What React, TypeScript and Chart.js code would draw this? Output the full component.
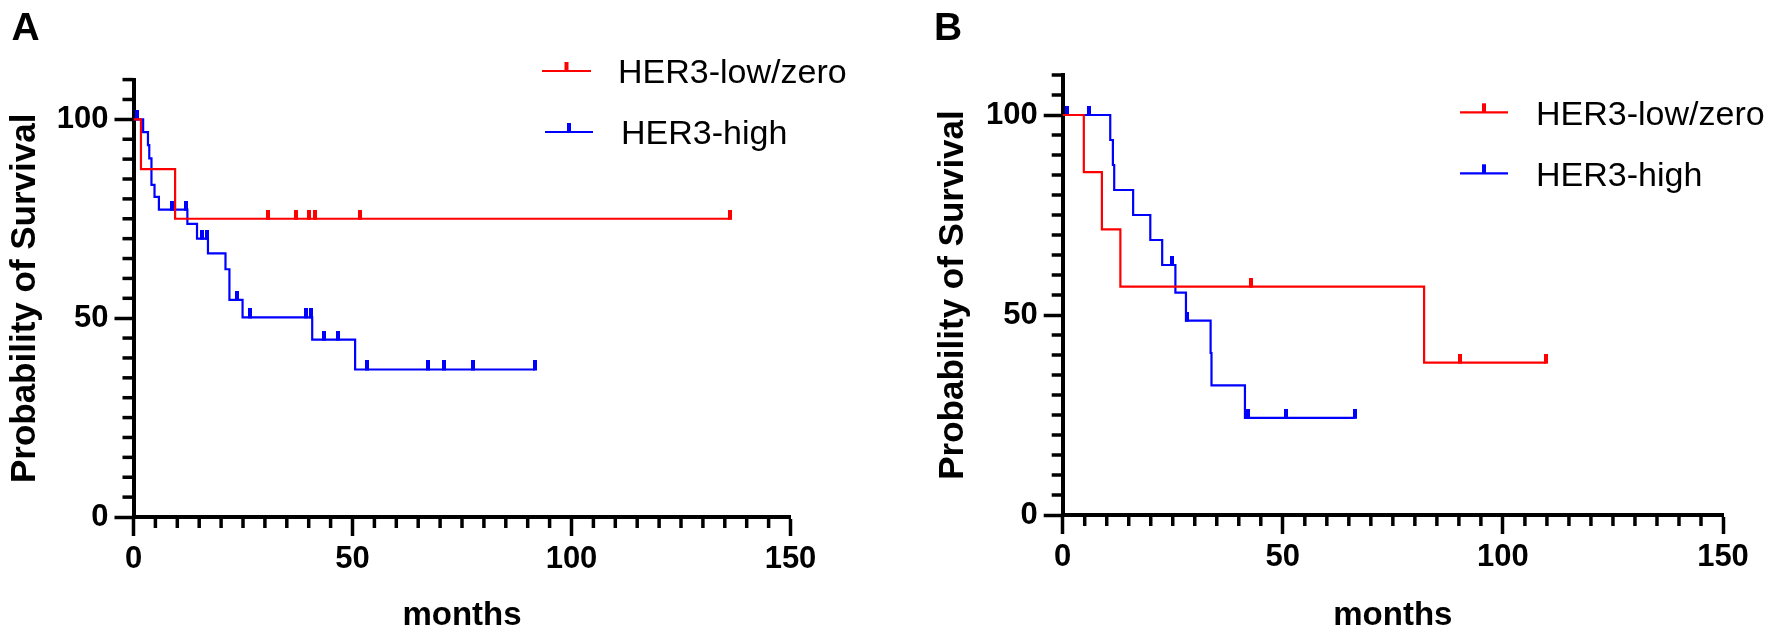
import React, { useEffect, useRef } from "react";
import { Chart, registerables } from "chart.js";

Chart.register(...registerables);

// ---------- data ----------
const seriesLabels = ["HER3-low/zero", "HER3-high"];
const seriesColors = ["#FF0000", "#0000FF"];
const xTickValues = [0, 50, 100, 150];
const yTickValues = [0, 50, 100];
const xTitle = "months";
const yTitle = "Probability of Survival";
const panelLetters = ["A", "B"];

// Panel A
const aLowEventTimes = [1.7, 9.5];
const aLowSurvival = [87.5, 75];
const aLowCensorTimes = [30.7, 37.2, 40.0, 41.5, 51.7, 136.3];

const aHighEventTimes = [2.2, 3.3, 3.6, 4.1, 4.8, 5.8, 12.3, 14.5, 17.0, 21.0, 21.9, 24.9, 40.8, 50.6];
const aHighSurvival = [96.8, 93.5, 90.2, 83.5, 80.5, 77.3, 73.7, 70.0, 66.3, 62.3, 54.6, 50.2, 44.6, 37.1];
const aHighCensorTimes = [0.9, 8.9, 12.0, 15.6, 16.7, 23.7, 26.5, 39.4, 40.6, 43.6, 46.6, 53.3, 67.2, 71.0, 77.6, 91.7];

// Panel B
const bLowEventTimes = [4.8, 8.9, 13.1, 82.1];
const bLowSurvival = [85.7, 71.4, 57.1, 38.1];
const bLowCensorTimes = [42.8, 90.2, 109.9];

const bHighEventTimes = [10.8, 11.4, 11.7, 16.0, 19.9, 22.6, 25.6, 28.0, 33.6, 33.8, 41.4];
const bHighSurvival = [93.75, 87.5, 81.25, 75, 68.75, 62.5, 55.6, 48.6, 40.5, 32.4, 24.3];
const bHighCensorTimes = [0.9, 5.9, 24.8, 28.3, 42.0, 50.8, 66.3];

// ---------- helpers ----------
const FONT = "'Liberation Sans', Arial, Helvetica, sans-serif";
const H = 641;

function survivalAt(t: number, ev: number[], surv: number[]) {
  let s = 100;
  for (let i = 0; i < ev.length; i++) if (ev[i] <= t) s = surv[i];
  return s;
}

function kmLine(ev: number[], surv: number[], cens: number[]) {
  const pts = [{ x: 0, y: 100 }];
  ev.forEach((t, i) => pts.push({ x: t, y: surv[i] }));
  const end = Math.max(...ev, ...cens);
  pts.push({ x: end, y: survivalAt(end, ev, surv) });
  return pts;
}

function censorPts(ev: number[], surv: number[], cens: number[]) {
  return cens.map((t) => ({ x: t, y: survivalAt(t, ev, surv) }));
}

function censorMark(color: string, w: number, h: number) {
  const c = document.createElement("canvas");
  c.width = w;
  c.height = h * 2;
  const ctx = c.getContext("2d")!;
  ctx.fillStyle = color;
  ctx.fillRect(0, 0, w, h + 1);
  return c;
}

const decorPlugin = {
  id: "kmDecor",
  afterDraw(chart: any, _args: any, opts: any) {
    const { ctx, chartArea } = chart;
    const xs = chart.scales.x;
    const ys = chart.scales.y;
    ctx.save();
    // minor ticks
    ctx.strokeStyle = "#000";
    ctx.lineWidth = 3.5;
    ctx.lineCap = "butt";
    for (let v = 0; v <= xs.max + 1e-6; v += opts.minorStep) {
      if (xTickValues.includes(v)) continue;
      const px = xs.getPixelForValue(v);
      ctx.beginPath();
      ctx.moveTo(px, chartArea.bottom);
      ctx.lineTo(px, chartArea.bottom + opts.minorLength);
      ctx.stroke();
    }
    for (let v = 0; v <= ys.max + 1e-6; v += opts.minorStep) {
      if (yTickValues.includes(v)) continue;
      const py = ys.getPixelForValue(v);
      ctx.beginPath();
      ctx.moveTo(chartArea.left - opts.minorLength, py);
      ctx.lineTo(chartArea.left, py);
      ctx.stroke();
    }
    // panel letter
    ctx.fillStyle = "#000";
    ctx.font = `bold 39px ${FONT}`;
    ctx.textAlign = "left";
    ctx.textBaseline = "alphabetic";
    ctx.fillText(opts.letter, opts.letterX, opts.letterY);
    // legend
    const lineSets = chart.data.datasets.filter((d: any) => d.showLine !== false);
    ctx.font = `34px ${FONT}`;
    lineSets.forEach((d: any, i: number) => {
      const it = opts.legend[i];
      ctx.strokeStyle = d.borderColor;
      ctx.lineWidth = 2.2;
      ctx.beginPath();
      ctx.moveTo(it.x1, it.y);
      ctx.lineTo(it.x2, it.y);
      ctx.stroke();
      ctx.fillStyle = d.borderColor;
      const mid = (it.x1 + it.x2) / 2;
      ctx.fillRect(mid - 2, it.y - 9, 4, 9);
      ctx.fillStyle = "#000";
      ctx.fillText(d.label, it.tx, it.y + 12.2);
    });
    ctx.restore();
  },
};

type PanelCfg = {
  lowEv: number[]; lowSurv: number[]; lowCens: number[];
  highEv: number[]; highSurv: number[]; highCens: number[];
  width: number; chartLeft: number; chartRight: number; chartTop: number; chartBottom: number;
  padLeft: number; letter: string; letterX: number;
  legend: { x1: number; x2: number; y: number; tx: number }[];
};

function makeConfig(p: PanelCfg): any {
  const datasets: any[] = [
    {
      label: seriesLabels[0],
      data: kmLine(p.lowEv, p.lowSurv, p.lowCens),
      borderColor: seriesColors[0],
      borderWidth: 2.2,
      stepped: "before",
      pointRadius: 0,
      fill: false,
    },
    {
      label: seriesLabels[1],
      data: kmLine(p.highEv, p.highSurv, p.highCens),
      borderColor: seriesColors[1],
      borderWidth: 2.2,
      stepped: "before",
      pointRadius: 0,
      fill: false,
    },
    {
      label: seriesLabels[0] + " censored",
      data: censorPts(p.lowEv, p.lowSurv, p.lowCens),
      showLine: false,
      borderColor: seriesColors[0],
      pointStyle: censorMark(seriesColors[0], 4, 9),
      pointRadius: 5,
    },
    {
      label: seriesLabels[1] + " censored",
      data: censorPts(p.highEv, p.highSurv, p.highCens),
      showLine: false,
      borderColor: seriesColors[1],
      pointStyle: censorMark(seriesColors[1], 4, 9),
      pointRadius: 5,
    },
  ];
  const tickFont = { family: FONT, size: 31, weight: "bold" };
  return {
    type: "line",
    data: { datasets },
    plugins: [decorPlugin],
    options: {
      animation: false,
      responsive: false,
      events: [],
      layout: {
        padding: { left: p.padLeft, right: p.width - p.chartRight, top: p.chartTop, bottom: 0 },
      },
      plugins: {
        legend: { display: false },
        tooltip: { enabled: false },
        kmDecor: {
          minorStep: 5,
          minorLength: 11,
          letter: p.letter,
          letterX: p.letterX,
          letterY: 39.5,
          legend: p.legend,
        },
      },
      scales: {
        x: {
          type: "linear",
          min: 0,
          max: 150,
          afterBuildTicks: (s: any) => {
            s.ticks = xTickValues.map((v) => ({ value: v }));
          },
          afterFit: (s: any) => {
            s.height = H - p.chartBottom;
          },
          grid: {
            display: true,
            drawOnChartArea: false,
            drawTicks: true,
            tickLength: 19,
            tickWidth: 3.5,
            tickColor: "#000",
          },
          border: { display: true, width: 4, color: "#000" },
          ticks: { color: "#000", font: tickFont, padding: 5, maxRotation: 0, autoSkip: false },
          title: {
            display: true,
            text: xTitle,
            color: "#000",
            font: { family: FONT, size: 33, weight: "bold" },
            padding: { top: 0, bottom: 5 },
          },
        },
        y: {
          type: "linear",
          min: 0,
          max: 110,
          afterBuildTicks: (s: any) => {
            s.ticks = yTickValues.map((v) => ({ value: v }));
          },
          afterFit: (s: any) => {
            s.width = p.chartLeft - p.padLeft;
          },
          grid: {
            display: true,
            drawOnChartArea: false,
            drawTicks: true,
            tickLength: 19,
            tickWidth: 3.5,
            tickColor: "#000",
          },
          border: { display: true, width: 4, color: "#000" },
          ticks: { color: "#000", font: tickFont, padding: 6, autoSkip: false },
          title: {
            display: true,
            text: yTitle,
            color: "#000",
            font: { family: FONT, size: 35, weight: "bold" },
            padding: { top: 4, bottom: 0 },
          },
        },
      },
    },
  };
}

const panelA: PanelCfg = {
  lowEv: aLowEventTimes, lowSurv: aLowSurvival, lowCens: aLowCensorTimes,
  highEv: aHighEventTimes, highSurv: aHighSurvival, highCens: aHighCensorTimes,
  width: 886, chartLeft: 133.5, chartRight: 790.5, chartTop: 79.6, chartBottom: 517,
  padLeft: 0, letter: panelLetters[0], letterX: 11.5,
  legend: [
    { x1: 542, x2: 591, y: 71, tx: 618 },
    { x1: 545, x2: 593, y: 132, tx: 621 },
  ],
};

const panelB: PanelCfg = {
  lowEv: bLowEventTimes, lowSurv: bLowSurvival, lowCens: bLowCensorTimes,
  highEv: bHighEventTimes, highSurv: bHighSurvival, highCens: bHighCensorTimes,
  width: 887, chartLeft: 176.7, chartRight: 837, chartTop: 75, chartBottom: 515,
  padLeft: 42.3, letter: panelLetters[1], letterX: 48,
  legend: [
    { x1: 574, x2: 622, y: 112.3, tx: 650 },
    { x1: 574, x2: 622, y: 173.3, tx: 650 },
  ],
};

export default function App() {
  const refA = useRef<HTMLCanvasElement>(null);
  const refB = useRef<HTMLCanvasElement>(null);

  useEffect(() => {
    const ca = new Chart(refA.current!, makeConfig(panelA));
    const cb = new Chart(refB.current!, makeConfig(panelB));
    return () => {
      ca.destroy();
      cb.destroy();
    };
  }, []);

  return (
    <div style={{ position: "absolute", left: 0, top: 0, width: 1773, height: H, background: "#fff" }}>
      <canvas
        ref={refA}
        width={panelA.width}
        height={H}
        style={{ position: "absolute", left: 0, top: 0, width: panelA.width, height: H }}
      />
      <canvas
        ref={refB}
        width={panelB.width}
        height={H}
        style={{ position: "absolute", left: 886, top: 0, width: panelB.width, height: H }}
      />
    </div>
  );
}
